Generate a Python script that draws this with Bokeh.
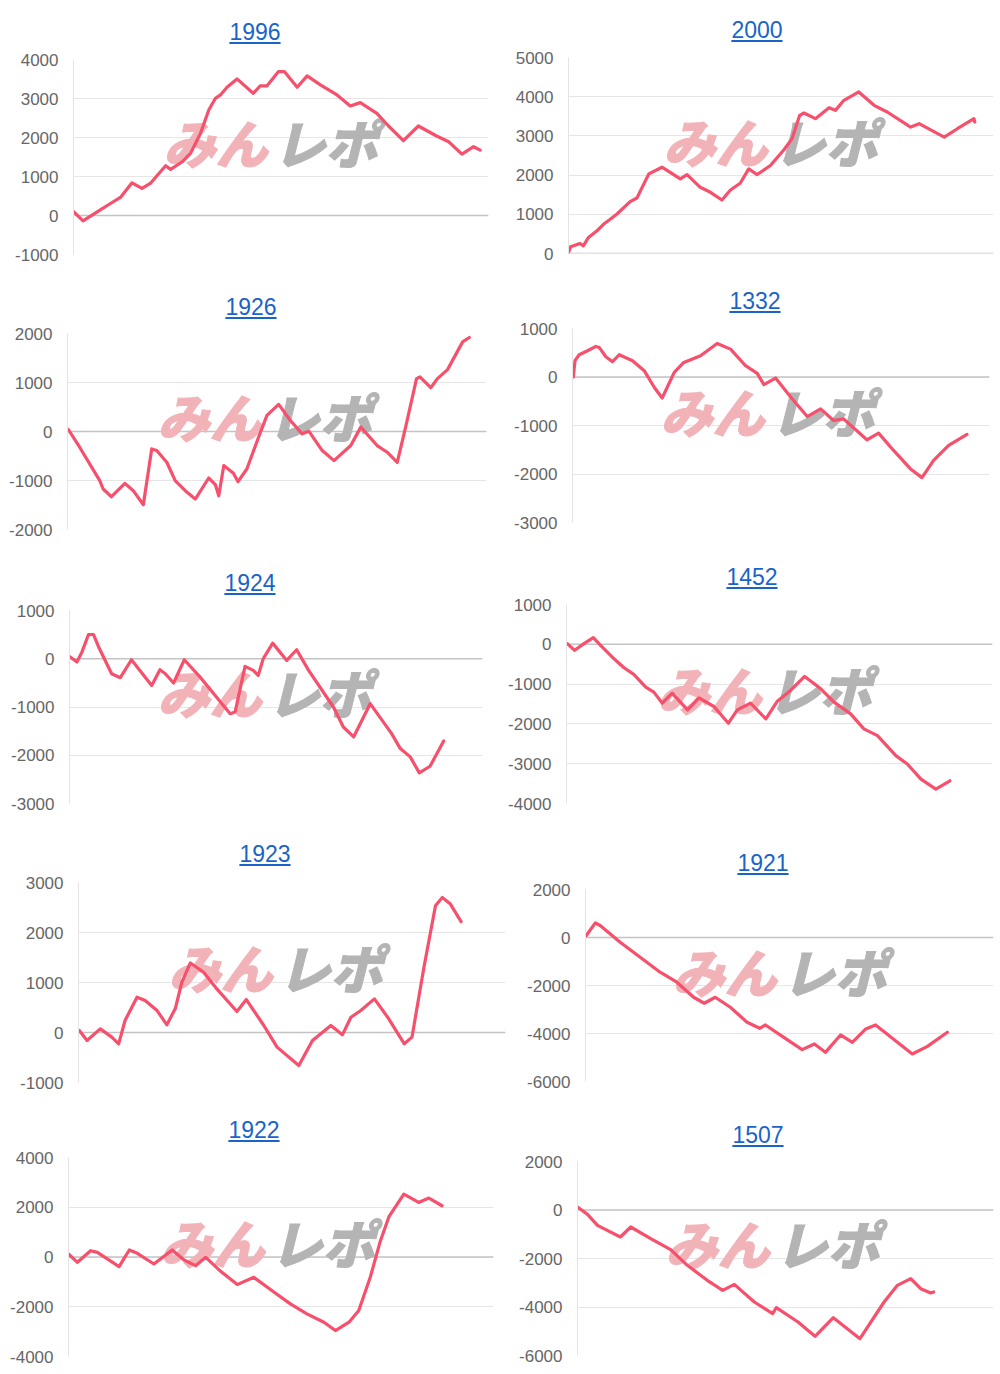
from bokeh.plotting import figure
from bokeh.layouts import column, row
from bokeh.models import Range1d, FixedTicker, Span, Label, Div
from bokeh.embed import file_html
from bokeh.resources import INLINE

# ---------------- data (x = position along the game axis, 0..100) ----------------
title_1996 = "1996"
x_1996 = [0, 2.3, 5.7, 8.9, 11.3, 14.1, 16.5, 18.5, 22.2, 23.4, 26.2, 28.2, 30.6, 32.6, 34.2, 35.4, 37.0, 39.4,
          43.3, 45.0, 46.6, 49.4, 50.8, 53.9, 56.3, 59.5, 63.5, 66.7, 69.1, 73.1, 75.9, 79.5, 83.1, 87.5, 90.4,
          93.6, 96.4, 98.0]
y_1996 = [100, -137, 94, 308, 462, 839, 693, 822, 1276, 1182, 1378, 1592, 2106, 2705, 3005, 3091, 3288, 3502,
          3134, 3322, 3322, 3690, 3690, 3288, 3579, 3348, 3091, 2808, 2894, 2620, 2295, 1918, 2295, 2038, 1892,
          1575, 1764, 1678]
ticks_1996 = [-1000, 0, 1000, 2000, 3000, 4000]

title_2000 = "2000"
x_2000 = [0, 0.5, 2.7, 3.5, 4.7, 6.7, 8.3, 9.9, 11.4, 14.5, 16.1, 18.9, 22.0, 26.3, 27.9, 31.0, 33.4, 36.1,
          38.1, 40.4, 42.4, 44.4, 47.5, 50.7, 52.6, 54.4, 55.4, 58.1, 61.3, 62.8, 64.8, 68.3, 71.9, 75.0, 80.5,
          82.5, 88.4, 91.5, 95.4, 95.6]
y_2000 = [26, 170, 256, 196, 410, 580, 751, 879, 1007, 1323, 1416, 2031, 2201, 1903, 2014, 1689, 1561, 1365,
          1621, 1792, 2159, 2014, 2244, 2645, 2927, 3524, 3584, 3439, 3720, 3652, 3908, 4121, 3780, 3609, 3225,
          3311, 2969, 3183, 3439, 3353]
ticks_2000 = [0, 1000, 2000, 3000, 4000, 5000]

title_1926 = "1926"
x_1926 = [0.2, 2.9, 7.7, 8.5, 10.5, 13.7, 15.7, 18.1, 20.1, 21.3, 23.7, 25.7, 28.1, 30.5, 33.7, 35.3, 36.1,
          37.3, 39.6, 40.7, 42.8, 45.6, 47.6, 50.4, 53.2, 56.0, 57.6, 60.8, 63.6, 67.6, 70.0, 73.9, 76.3, 78.7,
          80.7, 83.3, 84.1, 86.7, 88.3, 90.7, 94.3, 95.9]
y_1926 = [41, -321, -1003, -1174, -1331, -1058, -1208, -1495, -355, -389, -628, -1003, -1208, -1379, -949,
          -1085, -1311, -696, -853, -1024, -765, -116, 328, 553, 225, -48, 7, -389, -594, -287, 89, -287, -423,
          -628, 89, 1079, 1113, 894, 1079, 1263, 1829, 1918]
ticks_1926 = [-2000, -1000, 0, 1000, 2000]

title_1332 = "1332"
x_1332 = [0.2, 0.6, 1.6, 3.6, 5.6, 6.4, 8.0, 9.6, 11.2, 14.4, 17.2, 19.6, 21.5, 24.4, 26.7, 30.7, 34.7, 37.9,
          41.5, 44.3, 45.9, 48.7, 52.7, 56.3, 59.5, 62.6, 65.0, 70.6, 73.4, 77.0, 81.0, 83.8, 86.6, 90.2, 94.6]
y_1332 = [0, 336, 459, 541, 630, 610, 418, 315, 459, 336, 130, -212, -432, 96, 301, 438, 692, 575, 233, 75,
          -158, -21, -452, -815, -658, -897, -863, -1295, -1158, -1514, -1890, -2075, -1719, -1411, -1185]
ticks_1332 = [-3000, -2000, -1000, 0, 1000]

title_1924 = "1924"
x_1924 = [0, 1.8, 3.0, 4.6, 5.8, 7.0, 10.2, 12.3, 15.0, 19.9, 21.9, 23.2, 25.2, 27.8, 31.6, 38.9, 40.1, 42.5,
          44.5, 45.7, 46.9, 49.2, 52.6, 55.0, 57.9, 63.9, 66.3, 68.8, 72.8, 78.0, 80.1, 82.5, 84.7, 87.3, 90.6]
y_1924 = [48, -69, 138, 503, 503, 255, -310, -393, -21, -552, -228, -310, -503, -21, -379, -1138, -1103, -159,
          -241, -345, 0, 324, -34, 186, -241, -1000, -1414, -1621, -931, -1552, -1862, -2034, -2366, -2228, -1703]
ticks_1924 = [-3000, -2000, -1000, 0, 1000]

title_1452 = "1452"
x_1452 = [0.2, 1.9, 4.1, 6.3, 8.0, 10.7, 13.5, 15.8, 18.6, 20.5, 22.5, 24.8, 28.4, 31.1, 34.6, 38.0, 40.1,
          43.2, 46.8, 49.5, 52.6, 55.9, 59.7, 62.8, 66.7, 69.8, 73.0, 77.3, 80.0, 83.2, 86.7, 90.0]
y_1452 = [17, -151, 17, 168, -25, -319, -588, -756, -1076, -1202, -1479, -1227, -1647, -1345, -1563, -1983,
          -1647, -1479, -1874, -1429, -1160, -807, -1118, -1454, -1748, -2126, -2294, -2798, -3008, -3387, -3639,
          -3429]
ticks_1452 = [-4000, -3000, -2000, -1000, 0, 1000]

title_1923 = "1923"
x_1923 = [0.2, 2.0, 5.1, 7.8, 9.4, 10.9, 13.7, 15.6, 18.4, 20.7, 22.7, 24.2, 26.2, 29.3, 32.4, 37.1, 39.3,
          43.4, 46.5, 51.6, 54.8, 59.1, 61.8, 63.8, 66.1, 69.3, 72.4, 76.3, 78.1, 80.9, 83.6, 85.2, 87.1, 89.6]
y_1923 = [40, -160, 73, -93, -226, 240, 705, 639, 439, 153, 486, 1005, 1391, 1205, 872, 419, 659, 140, -293,
          -659, -160, 140, -47, 306, 439, 672, 306, -226, -93, 1305, 2536, 2702, 2569, 2217]
ticks_1923 = [-1000, 0, 1000, 2000, 3000]

title_1921 = "1921"
x_1921 = [0.2, 2.4, 3.6, 8.5, 13.4, 18.3, 22.4, 26.5, 29.1, 31.8, 35.5, 39.6, 42.7, 44.1, 48.6, 53.1, 56.1,
          58.8, 62.5, 65.4, 68.7, 71.1, 80.1, 83.8, 88.7]
y_1921 = [83, 612, 500, -195, -821, -1447, -1864, -2490, -2740, -2490, -2907, -3533, -3783, -3644, -4159,
          -4673, -4437, -4785, -4061, -4367, -3811, -3644, -4854, -4534, -3950]
ticks_1921 = [-6000, -4000, -2000, 0, 2000]

title_1922 = "1922"
x_1922 = [0, 2.1, 5.2, 6.8, 11.9, 14.3, 16.2, 20.1, 24.4, 27.2, 29.9, 32.3, 35.8, 39.7, 43.6, 48.4, 52.2,
          56.1, 60.1, 62.8, 66.0, 68.3, 71.0, 73.4, 75.4, 78.9, 82.4, 84.8, 87.9]
y_1922 = [120, -214, 254, 187, -388, 281, 147, -281, 281, -120, -348, -13, -575, -1110, -816, -1418, -1886,
          -2288, -2622, -2957, -2622, -2154, -816, 656, 1619, 2528, 2194, 2368, 2060]
ticks_1922 = [-4000, -2000, 0, 2000, 4000]

title_1507 = "1507"
x_1507 = [0, 2.4, 4.8, 6.8, 10.3, 12.8, 17.6, 22.4, 26.4, 31.2, 34.9, 37.7, 42.5, 46.9, 47.8, 53.0, 57.1,
          61.5, 67.9, 73.7, 76.9, 80.1, 82.5, 84.9, 85.6]
y_1507 = [124, -179, -632, -811, -1113, -701, -1182, -1636, -2282, -2900, -3313, -3065, -3794, -4275, -4027,
          -4619, -5210, -4440, -5306, -3794, -3107, -2832, -3244, -3423, -3381]
ticks_1507 = [-6000, -4000, -2000, 0, 2000]

# ---------------- styling ----------------
LINE = "#f6506c"
TITLE_BLUE = "#1a63c8"
FONT = "Liberation Sans"
WM_FONT = "'Noto Sans CJK JP Black', 'Noto Sans JP Black', 'Noto Sans CJK JP'"


def make_figure(xs, ys, ticks, fig_w, fig_h, L, R, T, B, wm_x, wm_cy):
    """Geometry in figure-relative pixels from the figure's top-left corner."""
    p = figure(frame_width=R - L, frame_height=B - T,
               min_border_left=L, min_border_right=fig_w - R,
               min_border_top=T, min_border_bottom=fig_h - B,
               x_range=Range1d(0, 100), y_range=Range1d(ticks[0], ticks[-1]),
               x_axis_location=None, output_backend="svg", toolbar_location=None)
    p.outline_line_color = None
    p.background_fill_color = "white"
    p.border_fill_color = "white"
    tk = FixedTicker(ticks=ticks)
    ax = p.yaxis[0]
    ax.ticker = tk
    ax.major_label_overrides = {t: str(t) for t in ticks}
    ax.major_tick_line_color = None
    ax.minor_tick_line_color = None
    ax.major_tick_out = 0
    ax.major_tick_in = 0
    ax.axis_line_color = "#e3e3e3"
    ax.axis_line_width = 1
    ax.major_label_standoff = 15
    ax.major_label_text_font = FONT
    ax.major_label_text_font_size = "17px"
    ax.major_label_text_color = "#666666"
    p.xgrid.visible = False
    p.ygrid.ticker = tk
    p.ygrid.grid_line_color = "#e6e6e6"
    p.ygrid.grid_line_width = 1
    p.add_layout(Span(location=0, dimension="width", line_color="#c4c4c4", line_width=1.5, level="underlay"))

    # watermark "みんレポ"
    p.add_layout(Label(x=wm_x, y=wm_cy, x_units="canvas", y_units="canvas", text="みん",
                       text_font=WM_FONT, text_font_style="bold italic", text_font_size="52px",
                       text_color="#f2b3b8", text_alpha=1.0, text_outline_color="#f2b3b8",
                       text_baseline="middle", text_align="left", level="underlay"))
    p.add_layout(Label(x=wm_x + 110, y=wm_cy, x_units="canvas", y_units="canvas", text="レポ",
                       text_font=WM_FONT, text_font_style="bold italic", text_font_size="52px",
                       text_color="#b4b4b4", text_alpha=1.0, text_outline_color="#b4b4b4",
                       text_baseline="middle", text_align="left", level="underlay"))

    p.line(xs, ys, line_color=LINE, line_width=3.2, line_join="round", line_cap="round")
    return p


def title_div(text, w, h, cx, cy):
    tw = 0.556 * 23 * len(text)
    html = (f'<div style="padding-left:{cx - tw / 2:.1f}px;padding-top:{cy - 14:.1f}px;line-height:28px;'
            f'font-family:\'Liberation Sans\',Arial,sans-serif;font-size:23px;white-space:nowrap;">'
            f'<span style="color:{TITLE_BLUE};text-decoration:underline;text-decoration-thickness:2px;'
            f'text-underline-offset:2px;">{text}</span></div>')
    return Div(text=html, width=w, height=h, margin=0)


# page geometry in page px: panel box (fx, fy, fw, fh), plot frame (L, R, T, B),
# title centre (tcx, tcy), watermark left / centre-y (wx, wcy)
def panel(title, xs, ys, ticks, fx, fy, fw, fh, L, R, T, B, tcx, tcy, wx, wcy):
    d = tcy - fy + 16
    div = title_div(title, fw, d, tcx - fx, tcy - fy)
    fig = make_figure(xs, ys, ticks, fw, fh - d, L - fx, R - fx, T - fy - d, B - fy - d,
                      wx - fx, wcy - fy - d - 2)
    return column(div, fig, spacing=0)


c1 = panel(title_1996, x_1996, y_1996, ticks_1996, 0, 0, 500, 280, 73, 488, 59, 254, 255, 32, 163, 143)
c2 = panel(title_2000, x_2000, y_2000, ticks_2000, 500, 0, 500, 280, 568, 993, 57, 253, 757, 30, 663, 142)
c3 = panel(title_1926, x_1926, y_1926, ticks_1926, 0, 280, 500, 280, 67, 486, 333, 529, 251, 307, 157, 417)
c4 = panel(title_1332, x_1332, y_1332, ticks_1332, 500, 280, 500, 280, 572, 989, 328, 522, 755, 301, 660, 412)
c5 = panel(title_1924, x_1924, y_1924, ticks_1924, 0, 560, 500, 275, 69, 482, 610, 803, 250, 583, 157, 693)
c6 = panel(title_1452, x_1452, y_1452, ticks_1452, 500, 560, 500, 275, 566, 992, 604, 803, 752, 577, 657, 690)
c7 = panel(title_1923, x_1923, y_1923, ticks_1923, 0, 835, 515, 275, 78, 505, 882, 1082, 265, 854, 168, 968)
c8 = panel(title_1921, x_1921, y_1921, ticks_1921, 515, 835, 485, 275, 585, 993, 889, 1081, 763, 863, 672, 972)
c9 = panel(title_1922, x_1922, y_1922, ticks_1922, 0, 1110, 500, 264, 68, 493, 1157, 1356, 254, 1130, 160, 1243)
c10 = panel(title_1507, x_1507, y_1507, ticks_1507, 500, 1110, 500, 264, 577, 993, 1161, 1355, 758, 1135, 665, 1244)

layout = column(row(c1, c2, spacing=0), row(c3, c4, spacing=0), row(c5, c6, spacing=0),
                row(c7, c8, spacing=0), row(c9, c10, spacing=0), spacing=0)

open("out.html", "w").write(file_html(layout, INLINE))
